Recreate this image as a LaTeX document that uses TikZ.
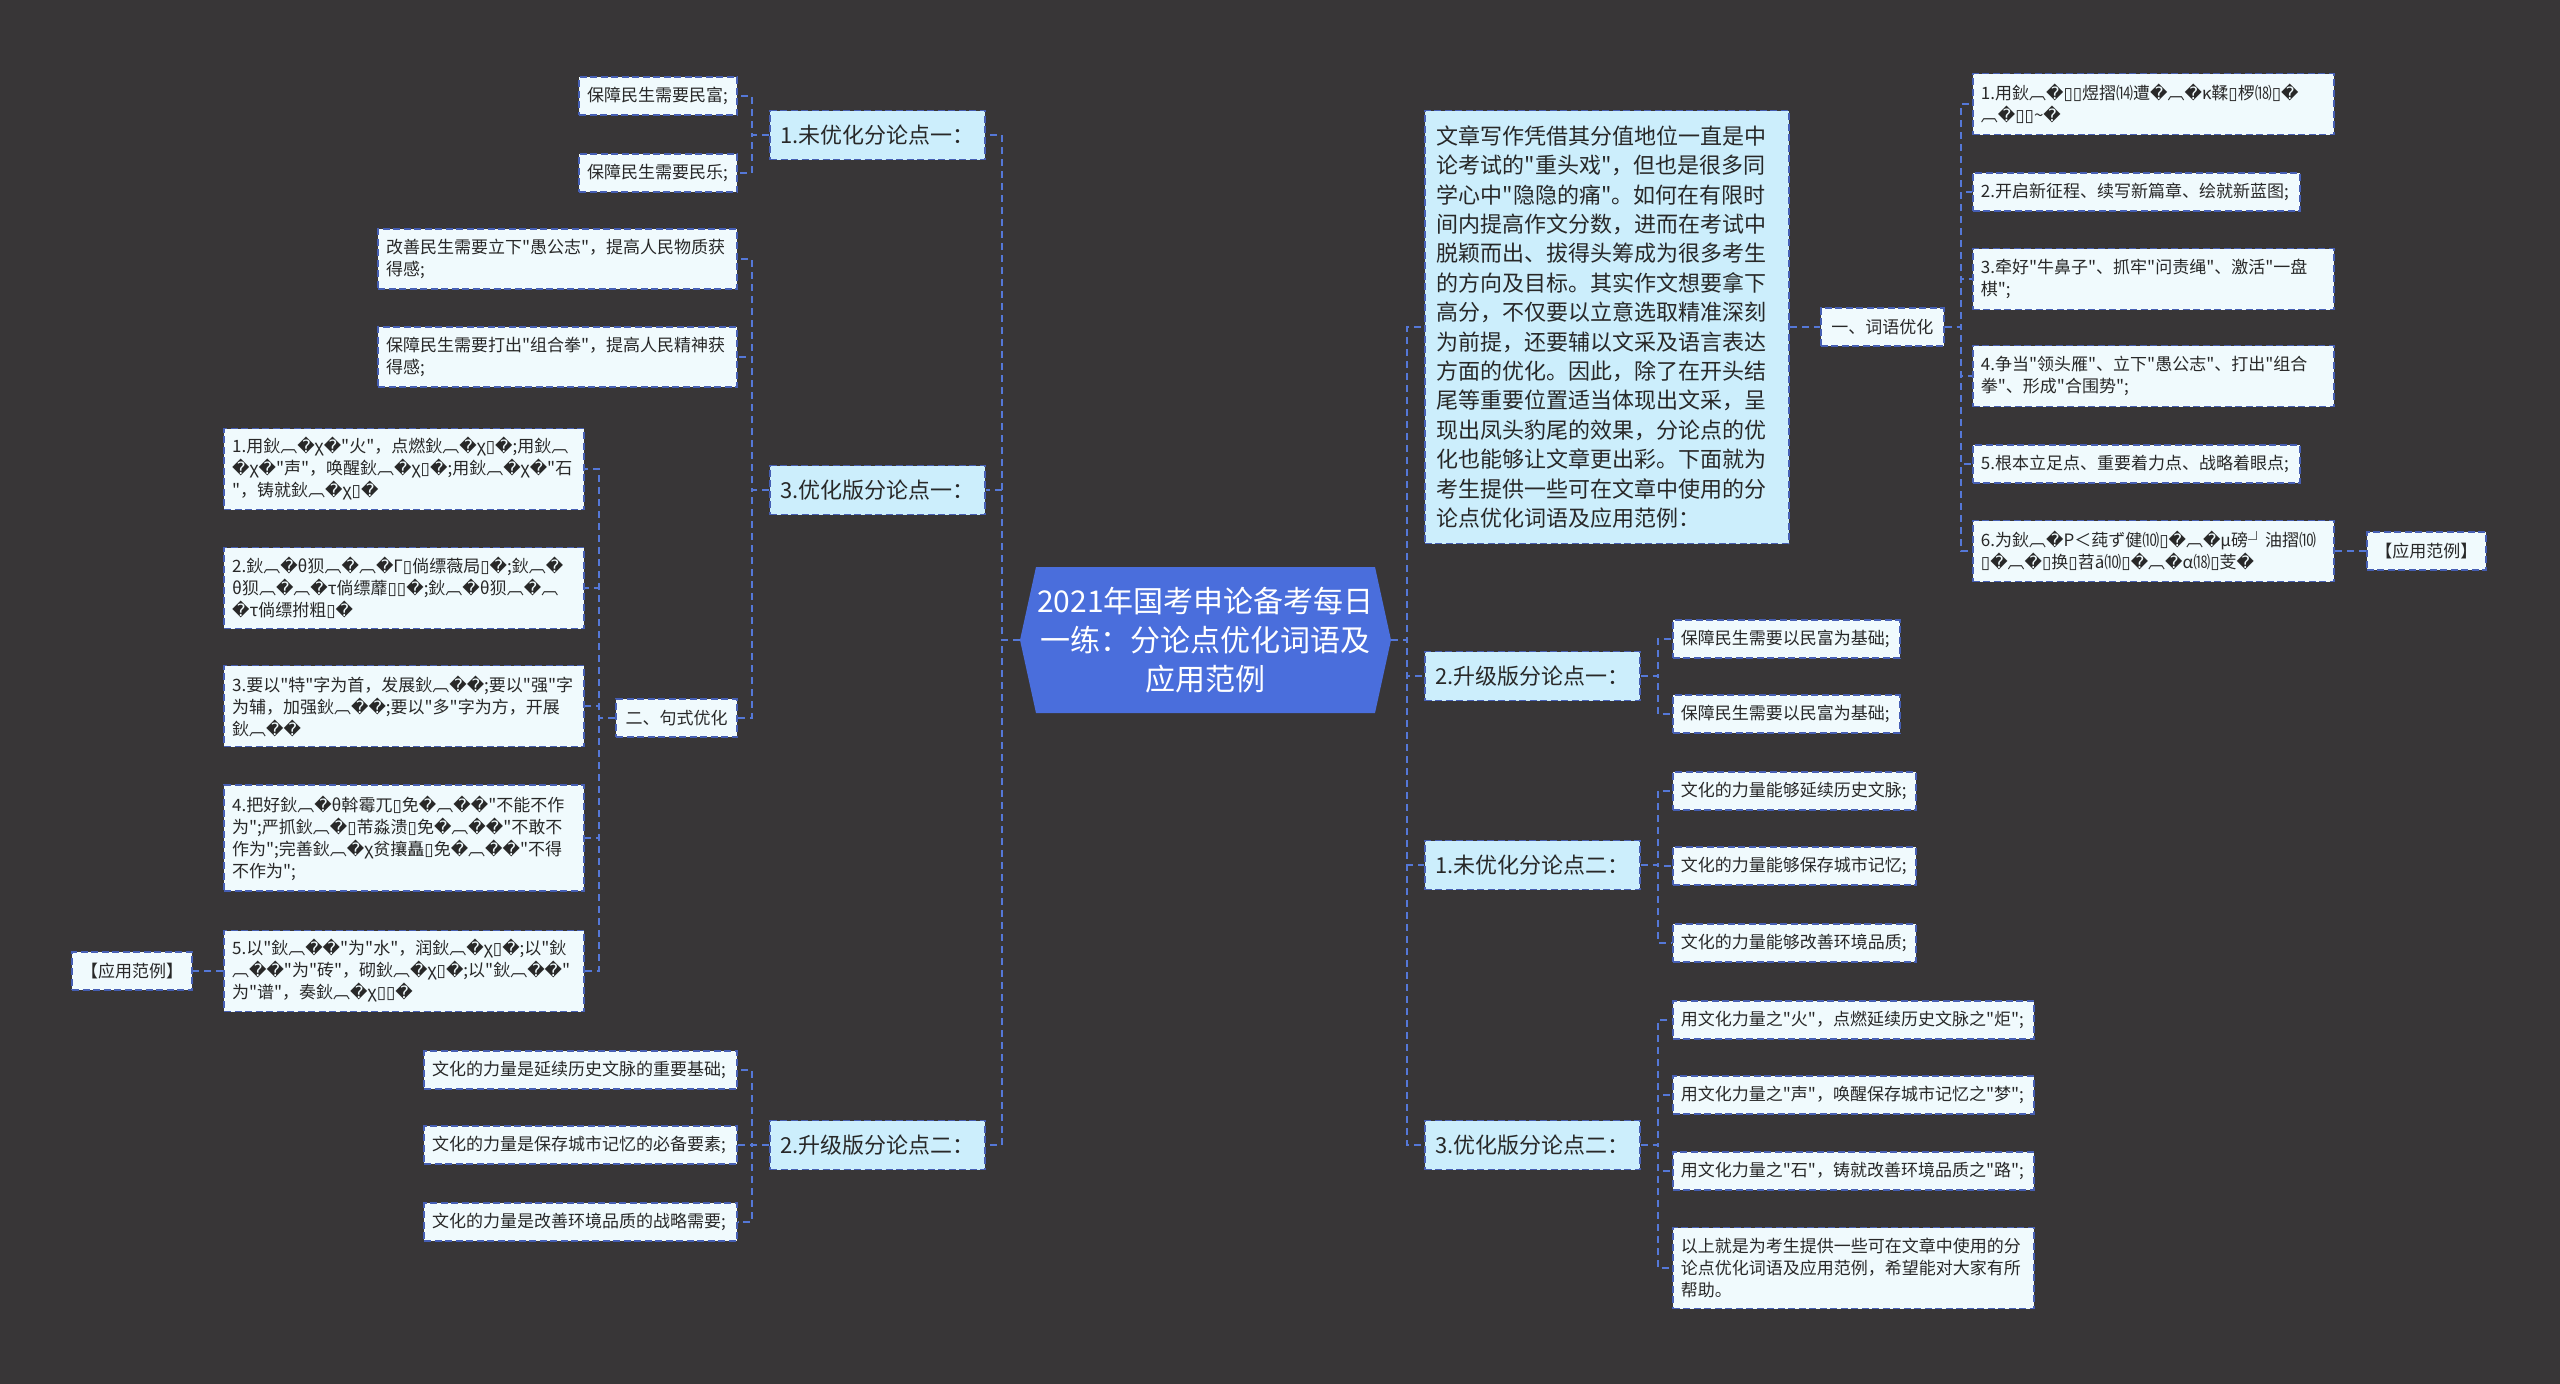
\documentclass[tikz,border=0pt]{standalone}
\usepackage{fontspec}
\newfontfamily\cjk{Noto Sans CJK SC}
\newfontfamily\dvs{DejaVu Sans}
\newcommand\QQ{{\dvs\symbol{"FFFD}}}
\newcommand\BX{{\dvs\symbol{"25AF}}}
\newcommand\GG{鈥︹\QQ}
\newcommand\fsz[2]{\cjk\fontsize{#1}{#2}\selectfont}
\definecolor{bgcol}{RGB}{56,54,55}
\definecolor{leaffill}{RGB}{240,250,253}
\definecolor{lvlfill}{RGB}{204,238,252}
\definecolor{cfill}{RGB}{74,110,220}
\definecolor{bordcol}{RGB}{70,95,180}
\definecolor{conncol}{RGB}{85,120,215}
\definecolor{txtcol}{RGB}{40,40,40}
\begin{document}
\begin{tikzpicture}[x=1pt,y=-1pt,
  conn/.style={draw=conncol, line width=2pt, dash pattern=on 7pt off 5pt},
  boxbase/.style={draw=bordcol, line width=1.8pt, dash pattern=on 7pt off 3.5pt, text=txtcol, inner xsep=8pt, inner ysep=4pt},
  leaf/.style={boxbase, fill=leaffill, font=\fsz{17}{22}, align=left, minimum height=38pt},
  leafc/.style={leaf, align=center},
  lvl/.style={boxbase, fill=lvlfill, font=\fsz{22}{28}, align=center, minimum height=49pt, text width=199pt},
]
\fill[bgcol] (0,0) rectangle (2560,1384);
\useasboundingbox (0,0) rectangle (2560,1384);

% centre
\fill[cfill] (1020,640) -- (1036,567) -- (1375,567) -- (1391,640) -- (1375,713) -- (1036,713) -- cycle;
\node[text=white, font=\fsz{30}{39}, align=center, minimum width=371pt, minimum height=146pt, inner sep=0pt] (C) at (1205.5,640) {2021年国考申论备考每日\\一练：分论点优化词语及\\应用范例};

% ---------- left side ----------
\node[lvl, anchor=east] (L1) at (986,135) {1.未优化分论点一：};
\node[leaf, anchor=east, text width=142pt] (L1a) at (738,96) {保障民生需要民富;};
\node[leaf, anchor=east, text width=142pt] (L1b) at (738,173) {保障民生需要民乐;};

\node[lvl, anchor=east] (L3) at (986,490) {3.优化版分论点一：};
\node[leaf, anchor=east, text width=343pt, minimum height=60pt] (L3a) at (738,259) {改善民生需要立下"愚公志"，提高人民物质获\\得感;};
\node[leaf, anchor=east, text width=343pt, minimum height=60pt] (L3b) at (738,357) {保障民生需要打出"组合拳"，提高人民精神获\\得感;};
\node[leafc, anchor=east, text width=105pt] (L3c) at (738,718) {二、句式优化};

\node[leaf, anchor=east, text width=344pt, minimum height=81pt] (S1) at (585,469) {1.用\GG{}χ\QQ{}"火"，点燃\GG{}χ\BX\QQ{};用鈥︹\\\QQ{}χ\QQ{}"声"，唤醒\GG{}χ\BX\QQ{};用\GG{}χ\QQ{}"石\\"，铸就\GG{}χ\BX\QQ};
\node[leaf, anchor=east, text width=344pt, minimum height=81pt] (S2) at (585,588) {2.\GG{}θ狈︹\QQ{}︹\QQ{}Γ\BX{}倘缥薇局\BX\QQ{};\GG\\θ狈︹\QQ{}︹\QQ{}τ倘缥蘼\BX\BX\QQ{};\GG{}θ狈︹\QQ{}︹\\\QQ{}τ倘缥拊粗\BX\QQ};
\node[leaf, anchor=east, text width=344pt, minimum height=81pt] (S3) at (585,706) {3.要以"特"字为首，发展鈥︹\QQ\QQ{};要以"强"字\\为辅，加强鈥︹\QQ\QQ{};要以"多"字为方，开展\\鈥︹\QQ\QQ};
\node[leaf, anchor=east, text width=344pt, minimum height=106pt] (S4) at (585,838) {4.把好\GG{}θ斡霉兀\BX{}免\QQ{}︹\QQ\QQ{}"不能不作\\为";严抓\GG\BX{}芾淼溃\BX{}免\QQ{}︹\QQ\QQ{}"不敢不\\作为";完善\GG{}χ贫攘矗\BX{}免\QQ{}︹\QQ\QQ{}"不得\\不作为";};
\node[leaf, anchor=east, text width=344pt, minimum height=81pt] (S5) at (585,971) {5.以"鈥︹\QQ\QQ{}"为"水"，润\GG{}χ\BX\QQ{};以"鈥\\︹\QQ\QQ{}"为"砖"，砌\GG{}χ\BX\QQ{};以"鈥︹\QQ\QQ{}"\\为"谱"，奏\GG{}χ\BX\BX\QQ};
\node[leafc, anchor=east, text width=104pt] (E1) at (193,971) {【应用范例】};

\node[lvl, anchor=east] (L2) at (986,1145) {2.升级版分论点二：};
\node[leaf, anchor=east, text width=297pt] (L2a) at (738,1070) {文化的力量是延续历史文脉的重要基础;};
\node[leaf, anchor=east, text width=297pt] (L2b) at (738,1145) {文化的力量是保存城市记忆的必备要素;};
\node[leaf, anchor=east, text width=297pt] (L2c) at (738,1222) {文化的力量是改善环境品质的战略需要;};

% ---------- right side ----------
\node[boxbase, fill=lvlfill, font=\fsz{22}{29.4}, align=left, anchor=west, text width=340pt, inner xsep=12pt, minimum height=433pt] (R0) at (1424,327) {文章写作凭借其分值地位一直是中\\论考试的"重头戏"，但也是很多同\\学心中"隐隐的痛"。如何在有限时\\间内提高作文分数，进而在考试中\\脱颖而出、拔得头筹成为很多考生\\的方向及目标。其实作文想要拿下\\高分，不仅要以立意选取精准深刻\\为前提，还要辅以文采及语言表达\\方面的优化。因此，除了在开头结\\尾等重要位置适当体现出文采，呈\\现出凤头豹尾的效果，分论点的优\\化也能够让文章更出彩。下面就为\\考生提供一些可在文章中使用的分\\论点优化词语及应用范例：};
\node[leafc, anchor=west, text width=107pt] (W0) at (1820,327) {一、词语优化};
\node[leaf, anchor=west, text width=345pt, minimum height=61pt] (W1) at (1972,104) {1.用鈥︹\QQ\BX\BX{}煜摺⒁遭\QQ{}︹\QQ{}κ鞣\BX{}椤⒅\BX\QQ\\︹\QQ\BX\BX{}\textasciitilde\QQ};
\node[leaf, anchor=west, text width=311pt] (W2) at (1972,192) {2.开启新征程、续写新篇章、绘就新蓝图;};
\node[leaf, anchor=west, text width=345pt, minimum height=61pt] (W3) at (1972,279) {3.牵好"牛鼻子"、抓牢"问责绳"、激活"一盘\\棋";};
\node[leaf, anchor=west, text width=345pt, minimum height=61pt] (W4) at (1972,376) {4.争当"领头雁"、立下"愚公志"、打出"组合\\拳"、形成"合围势";};
\node[leaf, anchor=west, text width=311pt] (W5) at (1972,464) {5.根本立足点、重要着力点、战略着眼点;};
\node[leaf, anchor=west, text width=345pt, minimum height=61pt] (W6) at (1972,551) {6.为\GG{}P＜莼ず健⑽\BX\QQ{}︹\QQ{}μ磅┘油摺⑽\\\BX\QQ{}︹\QQ\BX{}换\BX{}苕ā⑽\BX\QQ{}︹\QQ{}α⒅\BX{}芰\QQ};
\node[leafc, anchor=west, text width=103pt] (E2) at (2366,551) {【应用范例】};

\node[lvl, anchor=west] (R1) at (1424,676) {2.升级版分论点一：};
\node[leaf, anchor=west, text width=211pt] (R1a) at (1672,639) {保障民生需要以民富为基础;};
\node[leaf, anchor=west, text width=211pt] (R1b) at (1672,714) {保障民生需要以民富为基础;};

\node[lvl, anchor=west] (R2) at (1424,865) {1.未优化分论点二：};
\node[leaf, anchor=west, text width=227pt] (R2a) at (1672,791) {文化的力量能够延续历史文脉;};
\node[leaf, anchor=west, text width=227pt] (R2b) at (1672,866) {文化的力量能够保存城市记忆;};
\node[leaf, anchor=west, text width=227pt] (R2c) at (1672,943) {文化的力量能够改善环境品质;};

\node[lvl, anchor=west] (R3) at (1424,1145) {3.优化版分论点二：};
\node[leaf, anchor=west, text width=345pt] (R3a) at (1672,1020) {用文化力量之"火"，点燃延续历史文脉之"炬";};
\node[leaf, anchor=west, text width=345pt] (R3b) at (1672,1095) {用文化力量之"声"，唤醒保存城市记忆之"梦";};
\node[leaf, anchor=west, text width=345pt] (R3c) at (1672,1171) {用文化力量之"石"，铸就改善环境品质之"路";};
\node[leaf, anchor=west, text width=345pt, minimum height=81pt] (R3d) at (1672,1268) {以上就是为考生提供一些可在文章中使用的分\\论点优化词语及应用范例，希望能对大家有所\\帮助。};

% ---------- connectors ----------
\foreach \n in {L1,L3,L2} \draw[conn] (C.west) -- ++(-18,0) |- (\n.east);
\foreach \n in {R0,R1,R2,R3} \draw[conn] (C.east) -- ++(16,0) |- (\n.west);
\foreach \n in {L1a,L1b} \draw[conn] (L1.west) -- ++(-17,0) |- (\n.east);
\foreach \n in {L3a,L3b,L3c} \draw[conn] (L3.west) -- ++(-17,0) |- (\n.east);
\foreach \n in {S1,S2,S3,S4,S5} \draw[conn] (L3c.west) -- ++(-16,0) |- (\n.east);
\draw[conn] (S5.west) -- (E1.east);
\foreach \n in {L2a,L2b,L2c} \draw[conn] (L2.west) -- ++(-17,0) |- (\n.east);
\draw[conn] (R0.east) -- (W0.west);
\foreach \n in {W1,W2,W3,W4,W5,W6} \draw[conn] (W0.east) -- ++(16,0) |- (\n.west);
\draw[conn] (W6.east) -- (E2.west);
\foreach \n in {R1a,R1b} \draw[conn] (R1.east) -- ++(17,0) |- (\n.west);
\foreach \n in {R2a,R2b,R2c} \draw[conn] (R2.east) -- ++(17,0) |- (\n.west);
\foreach \n in {R3a,R3b,R3c,R3d} \draw[conn] (R3.east) -- ++(17,0) |- (\n.west);
\end{tikzpicture}
\end{document}
